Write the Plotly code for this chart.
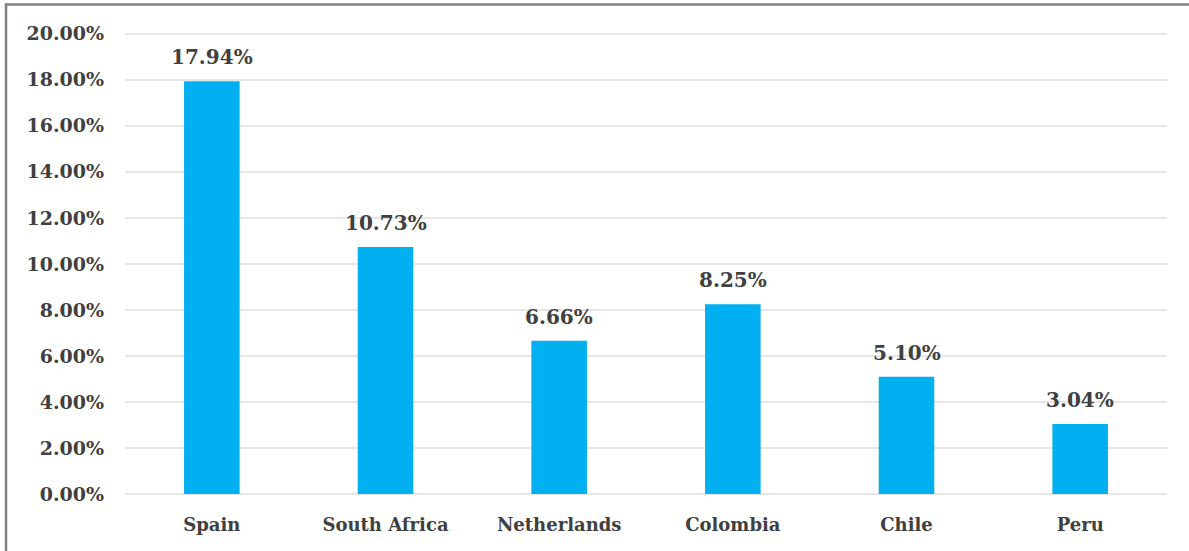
import plotly.graph_objects as go

countries = ["Spain", "South Africa", "Netherlands", "Colombia", "Chile", "Peru"]
shares = [0.1794, 0.1073, 0.0666, 0.0825, 0.0510, 0.0304]

BAR_COLOR = "#00B0F0"
TEXT_COLOR = "#404040"
FONT = "DejaVu Serif"

fig = go.Figure(
    go.Bar(
        x=countries,
        y=shares,
        marker=dict(color=BAR_COLOR, line=dict(width=0)),
        width=0.32,
        hoverinfo="skip",
    )
)

# value labels above each bar
for c, v in zip(countries, shares):
    fig.add_annotation(
        x=c, y=v, text=f"{v * 100:.2f}%", showarrow=False,
        yanchor="bottom", yshift=10,
        font=dict(family=FONT, size=20, color=TEXT_COLOR, weight="bold"),
    )

# outer frame around the chart
fig.add_shape(
    type="rect", xref="paper", yref="paper",
    x0=-0.1142, x1=1.03, y0=-0.16, y1=1.057,
    line=dict(color="#808080", width=2.5), fillcolor="rgba(0,0,0,0)",
    layer="below",
)

fig.update_layout(
    width=1189, height=551,
    margin=dict(l=125, r=22, t=31, b=57),
    paper_bgcolor="white", plot_bgcolor="white",
    showlegend=False,
    bargap=0.68,
    font=dict(family=FONT, size=18, color=TEXT_COLOR, weight="bold"),
    xaxis=dict(
        showgrid=False, showline=False, ticks="",
        ticklabelstandoff=18,
        tickfont=dict(family=FONT, size=18, color=TEXT_COLOR, weight="bold"),
    ),
    yaxis=dict(
        range=[0, 0.2012], tickvals=[i * 0.02 for i in range(11)], tickformat=".2%",
        showgrid=True, gridcolor="#E6E6E6", gridwidth=2,
        zeroline=True, zerolinecolor="#E6E6E6", zerolinewidth=2,
        showline=False, ticks="",
        ticklabelstandoff=20,
        tickfont=dict(family=FONT, size=19, color=TEXT_COLOR, weight="bold"),
    ),
)

fig.write_html("out.html")
